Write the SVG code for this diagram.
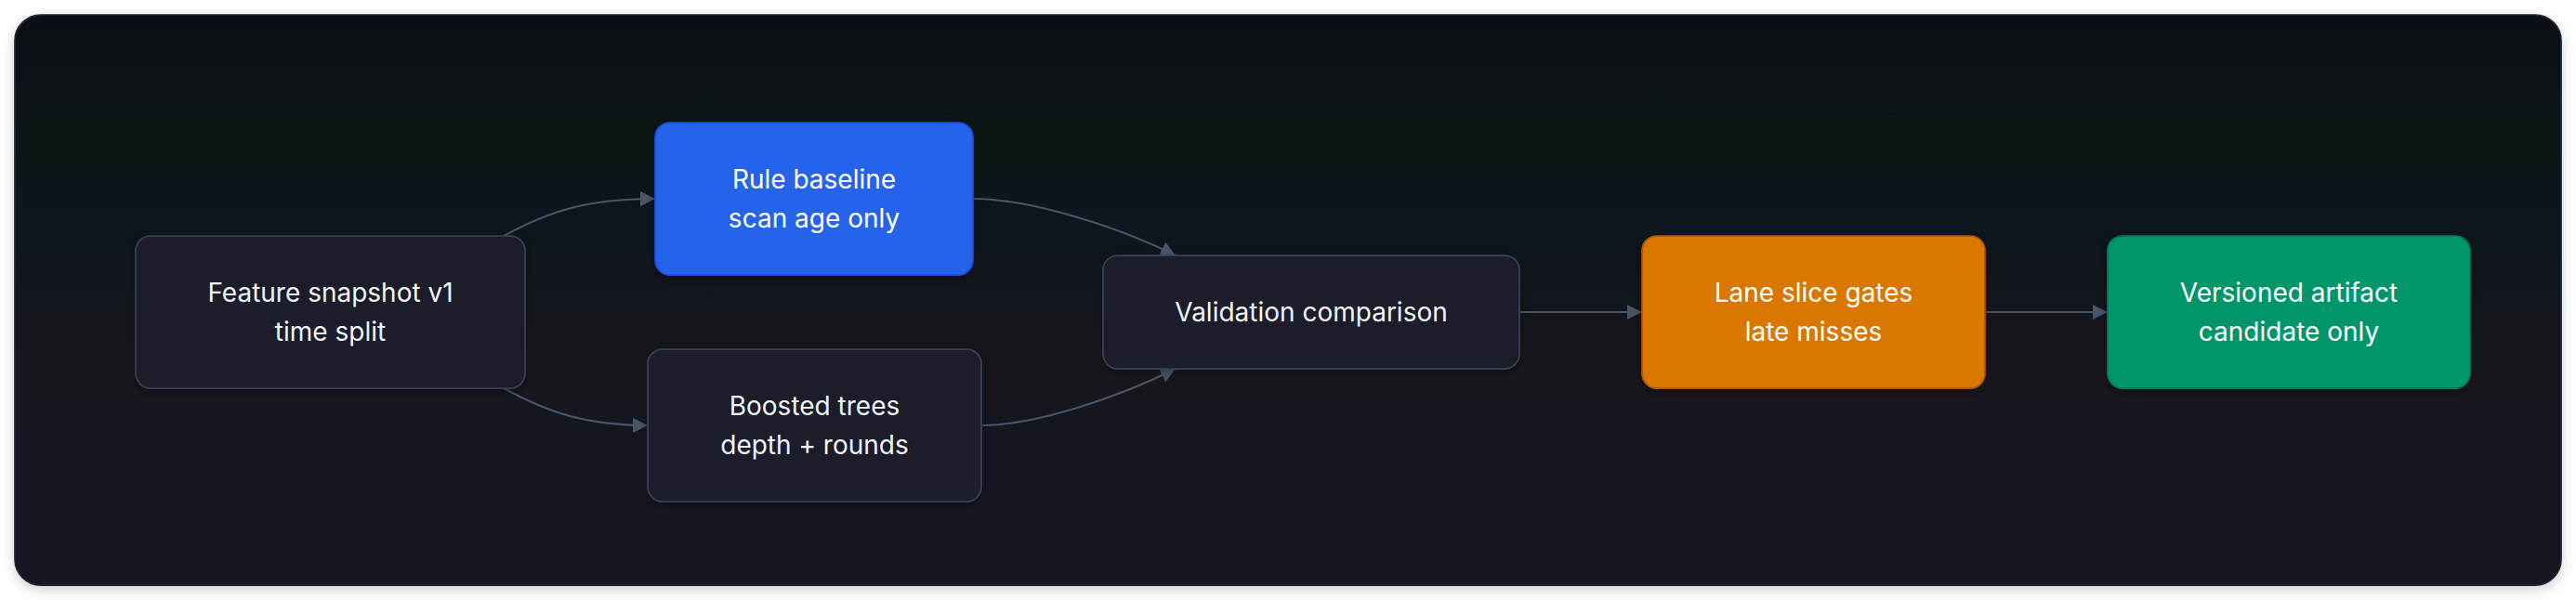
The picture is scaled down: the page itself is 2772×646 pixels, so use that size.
<svg xmlns="http://www.w3.org/2000/svg" width="2772" height="646" viewBox="0 0 2772 646">
  <defs>
    <linearGradient id="cardBg" x1="0" y1="0" x2="0" y2="1">
      <stop offset="0" stop-color="#0f1115"/>
      <stop offset="1" stop-color="#141524"/>
    </linearGradient>
    <filter id="cardShadow" x="-5%" y="-20%" width="110%" height="140%">
      <feDropShadow dx="0" dy="4" stdDeviation="7" flood-color="#000" flood-opacity="0.18"/>
    </filter>
    <filter id="nodeShadow" x="-10%" y="-20%" width="120%" height="140%">
      <feDropShadow dx="0" dy="3" stdDeviation="5" flood-color="#000" flood-opacity="0.35"/>
    </filter>
    <marker id="arrow" markerUnits="userSpaceOnUse" markerWidth="16" markerHeight="16" viewBox="0 0 16 16" refX="16" refY="8" orient="auto">
      <path d="M0,0 L16,8 L0,16 z" fill="#475569"/>
    </marker>
    <style>
      .node rect { stroke-width: 1.75; filter: url(#nodeShadow); }
      .dark rect { fill: #1c1d29; stroke: #354255; }
      .blue rect { fill: #2563eb; stroke: #1d4ed8; }
      .orange rect { fill: #d97706; stroke: #b45309; }
      .green rect { fill: #059669; stroke: #047857; }
      .node text { font-family: Inter, "Noto Sans", "Liberation Sans", sans-serif; font-size: 28px; text-anchor: middle; }
      .dark text { fill: #f1f5f9; }
      .blue text, .orange text, .green text { fill: #ffffff; }
      .edges path { fill: none; stroke: #475569; stroke-width: 2; marker-end: url(#arrow); }
    </style>
  </defs>
  <rect x="0" y="0" width="2772" height="646" fill="#ffffff"/>
  <rect x="16" y="16" width="2740" height="614" rx="28" fill="url(#cardBg)" stroke="#1e2535" stroke-width="1.75" filter="url(#cardShadow)"/>

  <g id="connectors" class="edges">
    <path d="M542,254 C590,228 630,214 705,214"/>
    <path d="M542,418 C590,444 630,458 697,458"/>
    <path d="M1047,214 C1110,214 1205,245 1265,275"/>
    <path d="M1056,458 C1115,458 1205,427 1265,397"/>
    <path d="M1635,336 L1767,336"/>
    <path d="M2136,336 L2268,336"/>
  </g>

  <g id="node-feature" class="node dark">
    <rect x="146" y="254" width="419" height="164" rx="16"/>
    <text x="355.5" y="325">Feature snapshot v1</text>
    <text x="355.5" y="367">time split</text>
  </g>
  <g id="node-rule" class="node blue">
    <rect x="705" y="132" width="342" height="164" rx="16"/>
    <text x="876" y="203">Rule baseline</text>
    <text x="876" y="245">scan age only</text>
  </g>
  <g id="node-boosted" class="node dark">
    <rect x="697" y="376" width="359" height="164" rx="16"/>
    <text x="876.5" y="447">Boosted trees</text>
    <text x="876.5" y="489">depth + rounds</text>
  </g>
  <g id="node-validation" class="node dark">
    <rect x="1187" y="275" width="448" height="122" rx="16"/>
    <text x="1411" y="346">Validation comparison</text>
  </g>
  <g id="node-lane" class="node orange">
    <rect x="1767" y="254" width="369" height="164" rx="16"/>
    <text x="1951.5" y="325">Lane slice gates</text>
    <text x="1951.5" y="367">late misses</text>
  </g>
  <g id="node-versioned" class="node green">
    <rect x="2268" y="254" width="390" height="164" rx="16"/>
    <text x="2463" y="325">Versioned artifact</text>
    <text x="2463" y="367">candidate only</text>
  </g>
</svg>
